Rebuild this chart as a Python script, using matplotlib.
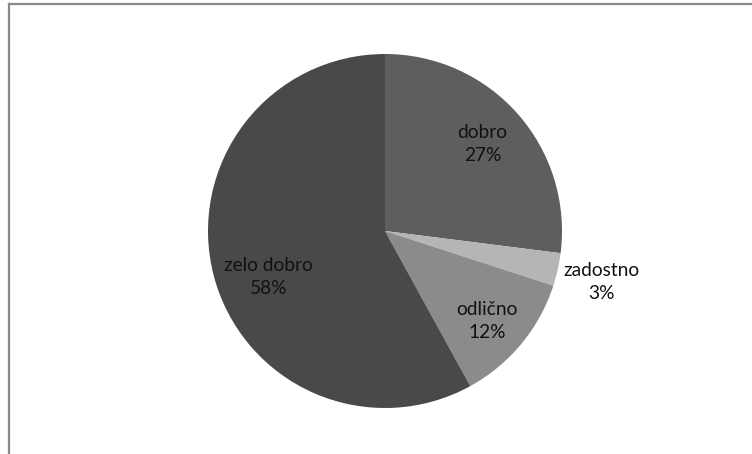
import matplotlib
matplotlib.use("Agg")
import matplotlib.pyplot as plt
from matplotlib.lines import Line2D

# Grade distribution
categories = ["dobro", "zadostno", "odlično", "zelo dobro"]
shares = [27, 3, 12, 58]
colors = ["#5e5e5e", "#b5b5b5", "#8b8b8b", "#494949"]
# label anchor positions (in units of pie radius, relative to centre)
label_pos = [(0.55, 0.49), (1.225, -0.29), (0.576, -0.508), (-0.658, -0.26)]

W, H = 752, 454
fig = plt.figure(figsize=(W / 100, H / 100), dpi=100)
fig.patch.set_facecolor("white")

# chart area frame (top and left edges visible)
fig.add_artist(Line2D([9 / W, 9 / W], [0, 1 - 4 / H], color="#8a8a8a", lw=1.6,
                      transform=fig.transFigure))
fig.add_artist(Line2D([9 / W, 1], [1 - 4 / H, 1 - 4 / H], color="#8a8a8a", lw=1.6,
                      transform=fig.transFigure))

cx, cy, r = 385, 231, 177
ax = fig.add_axes([(cx - r) / W, (H - cy - r) / H, 2 * r / W, 2 * r / H])
wedges, _ = ax.pie(shares, colors=colors, startangle=90, counterclock=False,
                   radius=1.0, wedgeprops=dict(linewidth=0))
ax.set_xlim(-1, 1)
ax.set_ylim(-1, 1)
ax.set_axis_off()

for name, val, (lx, ly) in zip(categories, shares, label_pos):
    ax.text(lx, ly, f"{name}\n{val}%", ha="center", va="center",
            fontsize=13.8, family="Lato", color="#111111", linespacing=1.42,
            clip_on=False)

fig.savefig("out.png", dpi=100)
